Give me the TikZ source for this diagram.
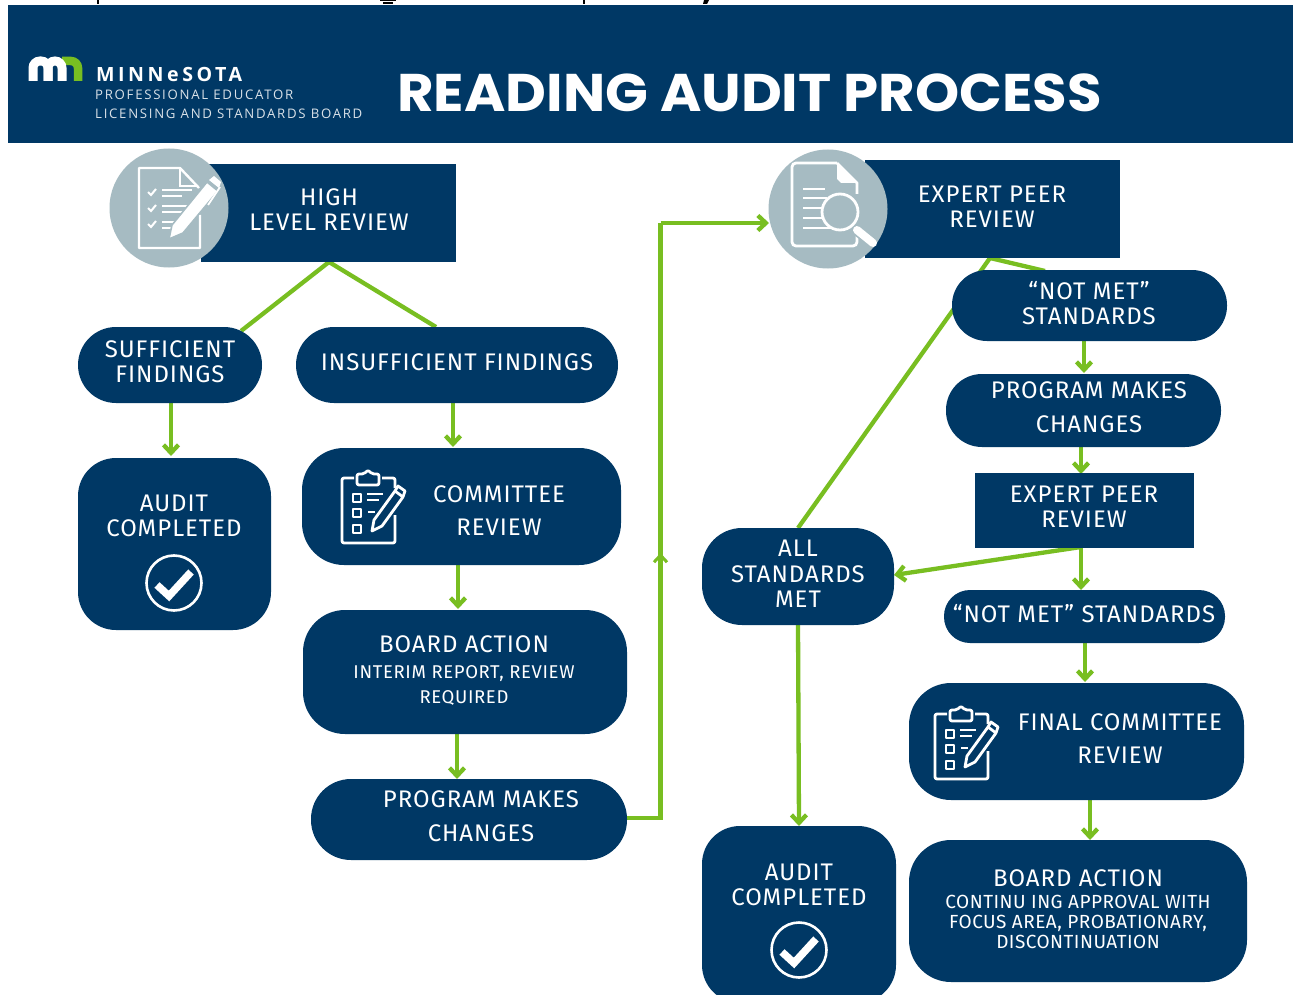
\documentclass[tikz,border=0pt]{standalone}
\usepackage{fontspec}
\setmainfont{Fira Sans}
\newfontfamily\titlefont{Poppins}[BoldFont={Poppins Bold},BoldFeatures={FakeStretch=1.06}]
\newfontfamily\logofont{Open Sans}
\definecolor{navy}{HTML}{003865}
\definecolor{leaf}{HTML}{78BE21}
\definecolor{disc}{HTML}{A6BBC2}
\usetikzlibrary{arrows.meta,calc}
\tikzset{
  x=1pt,y=-1pt,
  lab/.style={text=white,align=center,font=\fontsize{24}{25}\selectfont\addfontfeature{LetterSpace=4},inner sep=0pt},
  wide/.style={font=\fontsize{24}{#1}\selectfont\addfontfeature{LetterSpace=4}},
  sublab/.style={text=white,align=center,font=\fontsize{18.5}{25.5}\selectfont\addfontfeature{LetterSpace=3.5},inner sep=0pt},
  link/.style={draw=leaf,line width=4.3pt},
  arrow/.style={draw=leaf,line width=4.3pt,-{Straight Barb[length=8pt,width=15pt,line width=4.3pt]}},
  smallarrow/.style={draw=leaf,line width=3pt,-{Straight Barb[length=7pt,width=13pt,line width=3pt]}},
  icon/.style={draw=white,line width=2.8pt,line join=round,fill=none},
  logotxt/.style={anchor=west,inner sep=0pt,text=white!85!navy,font=\logofont\fontsize{13.2}{14}\selectfont\addfontfeature{LetterSpace=13}},
}
\newcommand{\rbox}[6]{% name, x1,y1,x2,y2, radius
  \path[fill=navy,rounded corners=#6] (#2,#3) rectangle (#4,#5);
  \coordinate (#1) at ({(#2+#4)/2},{(#3+#5)/2});}
\newcommand{\clipboard}[2]{%
  \begin{scope}[shift={(#1,#2)}]
    \draw[icon,rounded corners=2pt] (13,5) -- (1,5) -- (1,70) -- (54,70) -- (54,42);
    \draw[icon,rounded corners=2pt] (41,5) -- (54,5) -- (54,15);
    \draw[icon,rounded corners=2pt] (16,12) -- (16,1) -- (23,1) -- (27,-3) -- (31,1) -- (38,1) -- (38,12) -- cycle;
    \foreach \yy in {21,36,52} \draw[icon] (12,\yy) rectangle (20,\yy+8);
    \draw[icon] (26,21) -- (42,21); \draw[icon] (26,27) -- (38,27); \draw[icon] (27,39) -- (34,39);
    \draw[icon] (41,53) -- (31,58) -- (33,47) -- (54,18) -- (62,24) -- cycle;
    \draw[icon] (54,18) -- (57,13) -- (64,18) -- (62,24);
  \end{scope}}
\newcommand{\tick}[2]{%
  \draw[white,line width=2.6pt] (#1,#2) circle (27.5);
  \draw[white,line width=7.5pt,line join=miter] (#1-17,#2+2) -- (#1-5,#2+13) -- (#1+17,#2-11);}
\begin{document}
\begin{tikzpicture}
\useasboundingbox (0,0) rectangle (1293,995);
\fill[white] (0,0) rectangle (1293,995);
% cropped line of text above the banner (descenders only)
\fill[black] (97,0) rectangle (99,4);
\fill[black] (380,0) rectangle (396,1.5);
\fill[black] (383,2.5) rectangle (393,4);
\fill[black] (583,0) rectangle (585,4);
\fill[black] (704,0) -- (709,0) -- (707,4) -- (703,4) -- cycle;
% banner
\node[anchor=north west,inner sep=0pt,minimum width=1285pt,minimum height=138pt,fill=navy] (banner) at (8,5) {};
\node[anchor=west,inner sep=0pt,text=white,font=\titlefont\bfseries\fontsize{53}{55}\selectfont] (title) at (397,93) {READING AUDIT PROCESS};
\node[anchor=west,inner sep=0pt,text=white,font=\logofont\bfseries\fontsize{19.6}{20}\selectfont\addfontfeature{LetterSpace=18}] (mn1) at (96,74) {MINNeSOTA};
\node[logotxt] (mn2) at (95,95) {PROFESSIONAL EDUCATOR};
\node[logotxt] (mn3) at (95,114) {LICENSING AND STANDARDS BOARD};
% logo mn
\draw[leaf,line width=8.5pt,rounded corners=7pt] (62,61) -- (78,61) -- (78,81);
\draw[white,line width=9pt,rounded corners=7pt] (33,81) -- (33,61) -- (48,61) -- (48,81);
\draw[white,line width=9pt,rounded corners=7pt] (48,81) -- (48,61) -- (62,61) -- (62,81);

% connectors (under boxes)
\draw[link] (329,262) -- (241,331);
\draw[link] (329,262) -- (436,327);
\draw[arrow] (171,403) -- (171,456);
\draw[arrow] (453,403) -- (453,447);
\draw[arrow] (458,565) -- (458,609);
\draw[arrow] (457,734) -- (457,779);
\draw[link] (627,818) -- (660.5,818) -- (660.5,223);
\draw[arrow] (660.5,223) -- (769,223);
\draw[smallarrow] (660.5,570) -- (660.5,553);
\draw[link] (990,258) -- (798,528);
\draw[link] (990,258) -- (1045,271);
\draw[arrow] (1084,341) -- (1084,373);
\draw[arrow] (1081,447) -- (1081,474);
\draw[arrow] (1081,547) -- (1081,590);
\draw[arrow] (1085,642) -- (1085,682);
\draw[arrow] (1090,800) -- (1090,840);
\draw[arrow] (798,624) -- (799,826);
\draw[arrow] (1081,547) -- (894,575);

% left column
\path[fill=navy] (201,164) rectangle (456,262);
\rbox{suf}{78}{327}{262}{403}{38}
\rbox{ins}{296}{327}{618}{403}{38}
\rbox{ac1}{78}{458}{271}{630}{38}
\rbox{cr}{302}{448}{621}{565}{42}
\rbox{ba1}{303}{610}{627}{734}{42}
\rbox{pm1}{311}{779}{627}{860}{40}
% right column
\path[fill=navy] (865,160) rectangle (1120,258);
\rbox{nm1}{952}{270}{1227}{341}{35}
\rbox{pm2}{946}{374}{1221}{447}{36}
\path[fill=navy] (975,473) rectangle (1194,548);
\rbox{all}{702}{528}{894}{625}{40}
\rbox{nm2}{944}{590}{1225}{643}{26}
\rbox{fcr}{909}{683}{1244}{800}{42}
\rbox{ba2}{909}{840}{1247}{982}{42}
\path[fill=navy,rounded corners=38] (702,826) rectangle (896,1003);

% discs
\fill[disc] (169,208) circle (59.5);
\fill[disc] (828,209) circle (59.5);
% checklist/pen icon
\begin{scope}[shift={(110,149)}]
  \draw[white,line width=2.4pt,line join=round] (89,39) -- (70,19) -- (29,19) -- (29,99) -- (90,99) -- (90,66);
  \draw[white,line width=2.4pt] (70,19) -- (70,37) -- (88,37);
  \foreach \yy in {43,59,75} {
    \draw[white,line width=2pt] (38,\yy) -- (41,\yy+3) -- (46,\yy-3);
    \draw[white,line width=2.4pt] (52,\yy-2) -- (82,\yy-2);
    \draw[white,line width=2.4pt] (52,\yy+4) -- (72,\yy+4);
  }
  \fill[white,draw=disc,line width=1.6pt] (59,90) -- (62,76) -- (97,33) -- (108,42) -- (73,84) -- cycle;
  \fill[white] (99,31) -- (104,27) -- (111,33) -- (109,39) -- cycle;
  \draw[white,line width=1.8pt] (110,38) -- (98,56);
\end{scope}
% doc + magnifier icon
\begin{scope}[shift={(769,150)}]
  \draw[white,line width=2.8pt,rounded corners=4pt] (68,13) -- (23,13) -- (23,96) -- (88,96) -- (88,80);
  \draw[white,line width=2.8pt,line join=round] (68,13) -- (88,33) -- (88,44);
  \fill[white] (68,13) -- (88,33) -- (72,33) -- (68,29) -- cycle;
  \draw[white,line width=2.6pt] (34,39) -- (56,39);
  \foreach \yy/\xx in {48/58,58/54,68/54,78/62} \draw[white,line width=2.6pt] (34,\yy) -- (\xx,\yy);
  \fill[disc] (71,62) circle (18);
  \draw[white,line width=2.8pt] (71,62) circle (18);
  \draw[disc,line width=11pt] (86,79) -- (106,94);
  \draw[white,line width=8pt,line cap=round] (88,80) -- (104,93);
\end{scope}

% labels
\node[lab] (t1) at (329,210) {HIGH\\LEVEL REVIEW};
\node[lab] (t2) at (170,362) {SUFFICIENT\\FINDINGS};
\node[lab] (t3) at (457,362) {INSUFFICIENT FINDINGS};
\node[lab] (t4) at (174,516) {AUDIT\\COMPLETED};
\node[lab,wide=33] (t5) at (499,511) {COMMITTEE\\REVIEW};
\node[lab] (t6) at (464,644) {BOARD ACTION};
\node[sublab] (t7) at (464,685.5) {INTERIM REPORT, REVIEW\\REQUIRED};
\node[lab,wide=34] (t8) at (481,816) {PROGRAM MAKES\\CHANGES};
\node[lab] (t9) at (992,207) {EXPERT PEER\\REVIEW};
\node[lab] (t10) at (1089,303) {“NOT MET”\\STANDARDS};
\node[lab,wide=34] (t11) at (1089,407) {PROGRAM MAKES\\CHANGES};
\node[lab] (t12) at (1084,507) {EXPERT PEER\\REVIEW};
\node[lab,wide=25.5] (t13) at (798,574) {ALL\\STANDARDS\\MET};
\node[lab] (t14) at (1084,614) {“NOT MET” STANDARDS};
\node[lab,wide=33] (t15) at (1120,739) {FINAL COMMITTEE\\REVIEW};
\node[lab] (t16) at (1078,878) {BOARD ACTION};
\node[sublab,font=\fontsize{19}{20}\selectfont\addfontfeature{LetterSpace=2.5}] (t17) at (1078,922) {CONTINU ING APPROVAL WITH\\FOCUS AREA, PROBATIONARY,\\DISCONTINUATION};
\node[lab] (t18) at (799,885) {AUDIT\\COMPLETED};
% icons in boxes
\clipboard{341}{473}
\clipboard{934}{709}
\tick{174}{583}
\tick{799}{950}
\end{tikzpicture}
\end{document}
